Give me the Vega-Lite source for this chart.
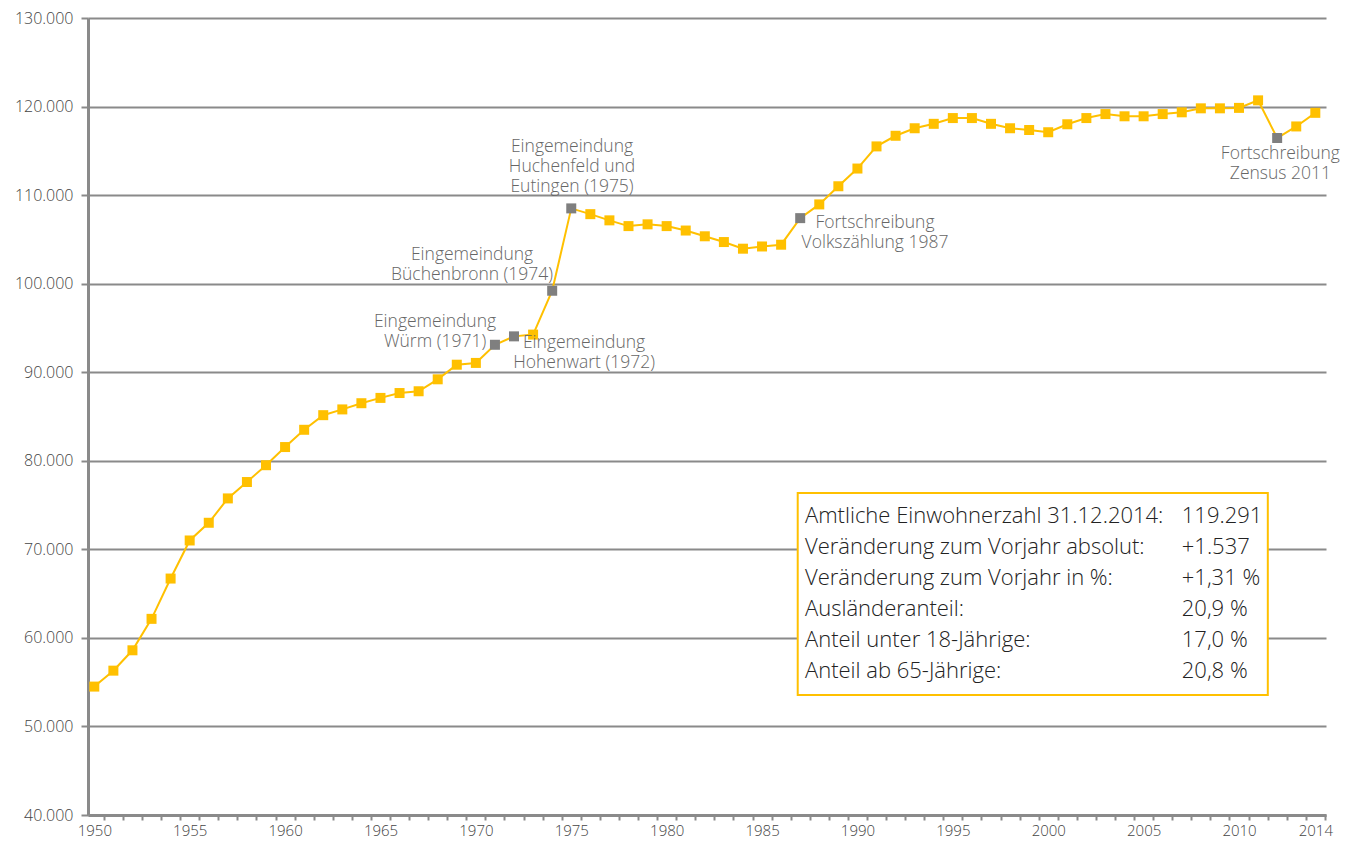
{
  "$schema": "https://vega.github.io/schema/vega-lite/v6.json",
  "width": 1238,
  "height": 797,
  "autosize": "none",
  "padding": {"left": 88, "top": 18, "right": 31, "bottom": 28},
  "background": "white",
  "config": {
    "view": {"stroke": null},
    "font": "Open Sans",
    "axis": {"title": null}
  },
  "datasets": {
    "bev": [
      {"jahr": 1950, "einwohner": 54500, "markiert": 0},
      {"jahr": 1951, "einwohner": 56300, "markiert": 0},
      {"jahr": 1952, "einwohner": 58600, "markiert": 0},
      {"jahr": 1953, "einwohner": 62150, "markiert": 0},
      {"jahr": 1954, "einwohner": 66700, "markiert": 0},
      {"jahr": 1955, "einwohner": 71000, "markiert": 0},
      {"jahr": 1956, "einwohner": 73000, "markiert": 0},
      {"jahr": 1957, "einwohner": 75750, "markiert": 0},
      {"jahr": 1958, "einwohner": 77600, "markiert": 0},
      {"jahr": 1959, "einwohner": 79500, "markiert": 0},
      {"jahr": 1960, "einwohner": 81550, "markiert": 0},
      {"jahr": 1961, "einwohner": 83500, "markiert": 0},
      {"jahr": 1962, "einwohner": 85150, "markiert": 0},
      {"jahr": 1963, "einwohner": 85800, "markiert": 0},
      {"jahr": 1964, "einwohner": 86500, "markiert": 0},
      {"jahr": 1965, "einwohner": 87100, "markiert": 0},
      {"jahr": 1966, "einwohner": 87650, "markiert": 0},
      {"jahr": 1967, "einwohner": 87850, "markiert": 0},
      {"jahr": 1968, "einwohner": 89200, "markiert": 0},
      {"jahr": 1969, "einwohner": 90850, "markiert": 0},
      {"jahr": 1970, "einwohner": 91050, "markiert": 0},
      {"jahr": 1971, "einwohner": 93100, "markiert": 1},
      {"jahr": 1972, "einwohner": 94050, "markiert": 1},
      {"jahr": 1973, "einwohner": 94250, "markiert": 0},
      {"jahr": 1974, "einwohner": 99200, "markiert": 1},
      {"jahr": 1975, "einwohner": 108500, "markiert": 1},
      {"jahr": 1976, "einwohner": 107850, "markiert": 0},
      {"jahr": 1977, "einwohner": 107150, "markiert": 0},
      {"jahr": 1978, "einwohner": 106500, "markiert": 0},
      {"jahr": 1979, "einwohner": 106700, "markiert": 0},
      {"jahr": 1980, "einwohner": 106500, "markiert": 0},
      {"jahr": 1981, "einwohner": 106000, "markiert": 0},
      {"jahr": 1982, "einwohner": 105350, "markiert": 0},
      {"jahr": 1983, "einwohner": 104700, "markiert": 0},
      {"jahr": 1984, "einwohner": 103950, "markiert": 0},
      {"jahr": 1985, "einwohner": 104200, "markiert": 0},
      {"jahr": 1986, "einwohner": 104400, "markiert": 0},
      {"jahr": 1987, "einwohner": 107400, "markiert": 1},
      {"jahr": 1988, "einwohner": 108950, "markiert": 0},
      {"jahr": 1989, "einwohner": 111000, "markiert": 0},
      {"jahr": 1990, "einwohner": 113000, "markiert": 0},
      {"jahr": 1991, "einwohner": 115500, "markiert": 0},
      {"jahr": 1992, "einwohner": 116700, "markiert": 0},
      {"jahr": 1993, "einwohner": 117550, "markiert": 0},
      {"jahr": 1994, "einwohner": 118050, "markiert": 0},
      {"jahr": 1995, "einwohner": 118700, "markiert": 0},
      {"jahr": 1996, "einwohner": 118700, "markiert": 0},
      {"jahr": 1997, "einwohner": 118050, "markiert": 0},
      {"jahr": 1998, "einwohner": 117550, "markiert": 0},
      {"jahr": 1999, "einwohner": 117350, "markiert": 0},
      {"jahr": 2000, "einwohner": 117100, "markiert": 0},
      {"jahr": 2001, "einwohner": 118000, "markiert": 0},
      {"jahr": 2002, "einwohner": 118700, "markiert": 0},
      {"jahr": 2003, "einwohner": 119150, "markiert": 0},
      {"jahr": 2004, "einwohner": 118900, "markiert": 0},
      {"jahr": 2005, "einwohner": 118900, "markiert": 0},
      {"jahr": 2006, "einwohner": 119150, "markiert": 0},
      {"jahr": 2007, "einwohner": 119350, "markiert": 0},
      {"jahr": 2008, "einwohner": 119800, "markiert": 0},
      {"jahr": 2009, "einwohner": 119800, "markiert": 0},
      {"jahr": 2010, "einwohner": 119850, "markiert": 0},
      {"jahr": 2011, "einwohner": 120700, "markiert": 0},
      {"jahr": 2012, "einwohner": 116450, "markiert": 1},
      {"jahr": 2013, "einwohner": 117754, "markiert": 0},
      {"jahr": 2014, "einwohner": 119291, "markiert": 0}
    ],
    "notes": [
      {"jahr": 1975.04, "einwohner": 115470, "text": ["Eingemeindung", "Huchenfeld und", "Eutingen (1975)"]},
      {"jahr": 1969.8, "einwohner": 103240, "text": ["Eingemeindung", "Büchenbronn (1974)"]},
      {"jahr": 1967.86, "einwohner": 95670, "text": ["Eingemeindung", "Würm (1971)"]},
      {"jahr": 1975.67, "einwohner": 93270, "text": ["Eingemeindung", "Hohenwart (1972)"]},
      {"jahr": 1990.92, "einwohner": 106890, "text": ["Fortschreibung", "Volkszählung 1987"]},
      {"jahr": 2012.17, "einwohner": 114640, "text": ["Fortschreibung", "Zensus 2011"]}
    ],
    "info": [
      {"zeile": 1, "merkmal": "Amtliche Einwohnerzahl 31.12.2014:", "wert": "119.291"},
      {"zeile": 2, "merkmal": "Veränderung zum Vorjahr absolut:", "wert": "+1.537"},
      {"zeile": 3, "merkmal": "Veränderung zum Vorjahr in %:", "wert": "+1,31 %"},
      {"zeile": 4, "merkmal": "Ausländeranteil:", "wert": "20,9 %"},
      {"zeile": 5, "merkmal": "Anteil unter 18-Jährige:", "wert": "17,0 %"},
      {"zeile": 6, "merkmal": "Anteil ab 65-Jährige:", "wert": "20,8 %"}
    ]
  },
  "layer": [
    {
      "layer": [
        {
          "data": {"name": "bev"},
          "mark": {"type": "line", "color": "#FFC000", "strokeWidth": 2},
          "encoding": {
            "x": {
              "field": "jahr", "type": "quantitative",
              "scale": {"domain": [1949.67, 2014.56], "nice": false, "zero": false},
              "axis": {
                "values": [1950.5,1951.5,1952.5,1953.5,1954.5,1955.5,1956.5,1957.5,1958.5,1959.5,1960.5,1961.5,1962.5,1963.5,1964.5,1965.5,1966.5,1967.5,1968.5,1969.5,1970.5,1971.5,1972.5,1973.5,1974.5,1975.5,1976.5,1977.5,1978.5,1979.5,1980.5,1981.5,1982.5,1983.5,1984.5,1985.5,1986.5,1987.5,1988.5,1989.5,1990.5,1991.5,1992.5,1993.5,1994.5,1995.5,1996.5,1997.5,1998.5,1999.5,2000.5,2001.5,2002.5,2003.5,2004.5,2005.5,2006.5,2007.5,2008.5,2009.5,2010.5,2011.5,2012.5,2013.5,2014.5],
                "tickCount": 100,
                "labelExpr": "((datum.value - 0.5) % 5 == 0 || datum.value == 2014.5) ? format(datum.value - 0.5, 'd') : ''",
                "labelOffset": -9.5,
                "labelOverlap": false,
                "labelFlush": false,
                "labelFontSize": 15,
                "labelFontWeight": 300,
                "labelColor": "#444444",
                "labelPadding": 3,
                "domainColor": "#8a8a8a",
                "domainWidth": 3,
                "tickColor": "#8a8a8a",
                "tickWidth": 2,
                "tickSize": 5,
                "grid": false
              }
            },
            "y": {
              "field": "einwohner", "type": "quantitative",
              "scale": {"domain": [40000, 130000], "nice": false, "zero": false},
              "axis": {
                "values": [40000,50000,60000,70000,80000,90000,100000,110000,120000,130000],
                "tickCount": 20,
                "labelExpr": "replace(format(datum.value, ',d'), ',', '.')",
                "labelFontSize": 16,
                "labelFontWeight": 300,
                "labelColor": "#444444",
                "labelPadding": 8,
                "domainColor": "#8a8a8a",
                "domainWidth": 3,
                "tickColor": "#8a8a8a",
                "tickWidth": 2,
                "tickSize": 7,
                "grid": true,
                "gridColor": "#8a8a8a",
                "gridWidth": 2,
                "gridOpacity": 1
              }
            }
          }
        },
        {
          "data": {"name": "bev"},
          "mark": {"type": "square", "size": 100, "opacity": 1, "filled": true},
          "encoding": {
            "x": {"field": "jahr", "type": "quantitative"},
            "y": {"field": "einwohner", "type": "quantitative"},
            "color": {
              "condition": {"test": "datum.markiert == 1", "value": "#7f7f7f"},
              "value": "#FFC000"
            }
          }
        },
        {
          "data": {"name": "notes"},
          "mark": {"type": "text", "align": "center", "baseline": "middle", "fontSize": 17.5, "fontWeight": 300, "lineHeight": 20, "color": "#666666"},
          "encoding": {
            "x": {"field": "jahr", "type": "quantitative"},
            "y": {"field": "einwohner", "type": "quantitative"},
            "text": {"field": "text"}
          }
        },
        {
          "data": {"values": [{}]},
          "mark": {"type": "rect", "fill": "white", "stroke": "#FFC000", "strokeWidth": 2},
          "encoding": {
            "x": {"datum": 1986.87, "type": "quantitative"},
            "x2": {"datum": 2011.51},
            "y": {"datum": 76360, "type": "quantitative"},
            "y2": {"datum": 53550}
          }
        }
      ]
    },
    {
      "data": {"name": "info"},
      "encoding": {
        "y": {
          "field": "zeile", "type": "ordinal",
          "scale": {"type": "point", "domain": [1, 2, 3, 4, 5, 6], "range": [498, 653], "padding": 0},
          "axis": null
        }
      },
      "layer": [
        {
          "mark": {"type": "text", "align": "left", "baseline": "middle", "fontSize": 22, "fontWeight": 300, "color": "#222222"},
          "encoding": {
            "x": {"datum": 1987.25, "type": "quantitative"},
            "text": {"field": "merkmal"}
          }
        },
        {
          "mark": {"type": "text", "align": "left", "baseline": "middle", "fontSize": 22, "fontWeight": 300, "color": "#222222"},
          "encoding": {
            "x": {"datum": 2007.0, "type": "quantitative"},
            "text": {"field": "wert"}
          }
        }
      ]
    }
  ],
  "resolve": {"scale": {"y": "independent"}}
}
